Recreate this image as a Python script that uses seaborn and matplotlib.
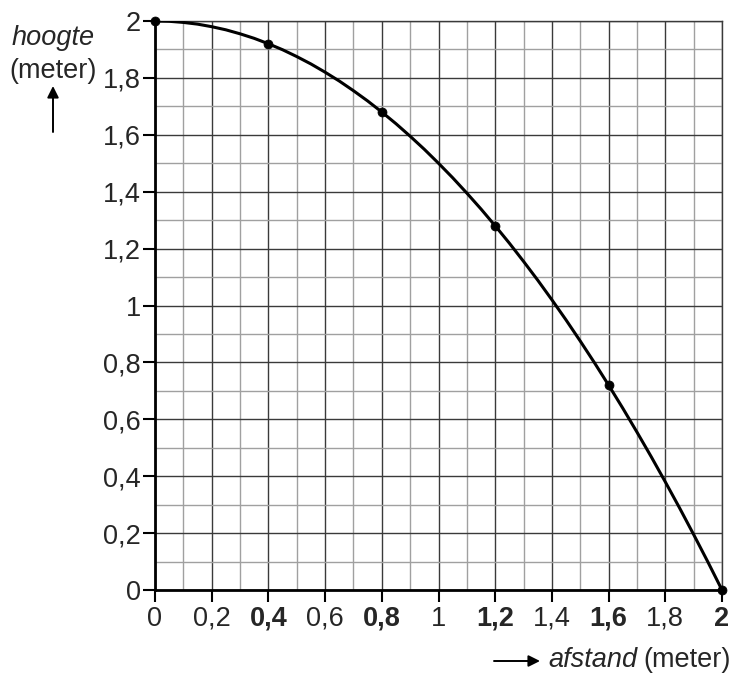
import matplotlib
matplotlib.use("Agg")
import matplotlib.pyplot as plt
import seaborn as sns
import pandas as pd
import numpy as np
from matplotlib.ticker import MultipleLocator

sns.set_theme(style="white")
plt.rcParams['font.family'] = ['Liberation Sans', 'DejaVu Sans']

# curve
afstand = [0.0, 0.05, 0.1, 0.15, 0.2, 0.25, 0.3, 0.35, 0.4, 0.45, 0.5, 0.55,
           0.6, 0.65, 0.7, 0.75, 0.8, 0.85, 0.9, 0.95, 1.0, 1.05, 1.1, 1.15,
           1.2, 1.25, 1.3, 1.35, 1.4, 1.45, 1.5, 1.55, 1.6, 1.65, 1.7, 1.75,
           1.8, 1.85, 1.9, 1.95, 2.0]
hoogte = [2.0, 1.999, 1.995, 1.989, 1.98, 1.969, 1.955, 1.939, 1.92, 1.899,
          1.875, 1.849, 1.82, 1.789, 1.755, 1.719, 1.68, 1.639, 1.595, 1.549,
          1.5, 1.449, 1.395, 1.339, 1.28, 1.219, 1.155, 1.089, 1.02, 0.949,
          0.875, 0.799, 0.72, 0.639, 0.555, 0.469, 0.38, 0.289, 0.195, 0.099, 0.0]
# marked points
punt_x = [0.0, 0.4, 0.8, 1.2, 1.6, 2.0]
punt_y = [2.0, 1.92, 1.68, 1.28, 0.72, 0.0]

x_ticks = [0, 0.2, 0.4, 0.6, 0.8, 1.0, 1.2, 1.4, 1.6, 1.8, 2.0]
x_labels = ["0", "0,2", "0,4", "0,6", "0,8", "1", "1,2", "1,4", "1,6", "1,8", "2"]
x_bold = [False, False, True, False, True, False, True, False, True, False, True]
y_ticks = [0, 0.2, 0.4, 0.6, 0.8, 1.0, 1.2, 1.4, 1.6, 1.8, 2.0]
y_labels = ["0", "0,2", "0,4", "0,6", "0,8", "1", "1,2", "1,4", "1,6", "1,8", "2"]

FS = 19.5
W, H = 732, 674
fig = plt.figure(figsize=(W/100, H/100), dpi=100)
ax = fig.add_axes([155/W, 1 - 590/H, (722-155)/W, (590-21)/H])

curve = pd.DataFrame({"afstand": afstand, "hoogte": hoogte})
punten = pd.DataFrame({"afstand": punt_x, "hoogte": punt_y})

ax.set_xlim(0, 2)
ax.set_ylim(0, 2)
ax.xaxis.set_minor_locator(MultipleLocator(0.1))
ax.yaxis.set_minor_locator(MultipleLocator(0.1))
ax.set_xticks(x_ticks)
ax.set_yticks(y_ticks)
ax.grid(which='minor', color='#a0a0a0', linewidth=1.0)
ax.grid(which='major', color='#3a3a3a', linewidth=1.0)
ax.set_axisbelow(True)

sns.lineplot(data=curve, x="afstand", y="hoogte", ax=ax, color='black',
             linewidth=2.2, sort=False, zorder=4)
sns.scatterplot(data=punten, x="afstand", y="hoogte", ax=ax, color='black',
                s=42, edgecolor='black', zorder=5, clip_on=False)

for side in ['top', 'right']:
    ax.spines[side].set_color('#3a3a3a')
    ax.spines[side].set_linewidth(1.0)
for side in ['left', 'bottom']:
    ax.spines[side].set_color('black')
    ax.spines[side].set_linewidth(2.0)

ax.tick_params(which='major', direction='out', length=8.5, width=1.5, color='black',
               left=True, bottom=True, labelsize=FS)
ax.tick_params(axis='x', which='major', pad=3)
ax.tick_params(axis='y', which='major', pad=1.5)
ax.tick_params(which='minor', length=0)
ax.set_xticklabels(x_labels)
ax.set_yticklabels(y_labels)
for lab, b in zip(ax.get_xticklabels(), x_bold):
    if b:
        lab.set_fontweight('bold')
ax.set_xlabel("")
ax.set_ylabel("")

fig.text(53/W, 1 - 45/H, "hoogte", ha='center', va='baseline', fontsize=FS, style='italic')
fig.text(53/W, 1 - 78/H, "(meter)", ha='center', va='baseline', fontsize=FS)
ax.annotate("", xy=(53/W, 1 - 86/H), xytext=(53/W, 1 - 132/H),
            xycoords='figure fraction', textcoords='figure fraction', annotation_clip=False,
            arrowprops=dict(arrowstyle='-|>', color='black', lw=1.4, mutation_scale=17,
                            shrinkA=0, shrinkB=0))
ax.annotate("", xy=(540/W, 1 - 661/H), xytext=(494/W, 1 - 661/H),
            xycoords='figure fraction', textcoords='figure fraction', annotation_clip=False,
            arrowprops=dict(arrowstyle='-|>', color='black', lw=1.4, mutation_scale=17,
                            shrinkA=0, shrinkB=0))
fig.text(638/W, 1 - 667/H, "afstand", ha='right', va='baseline', fontsize=FS, style='italic')
fig.text(731/W, 1 - 667/H, "(meter)", ha='right', va='baseline', fontsize=FS)

fig.savefig("out.png", dpi=100)
